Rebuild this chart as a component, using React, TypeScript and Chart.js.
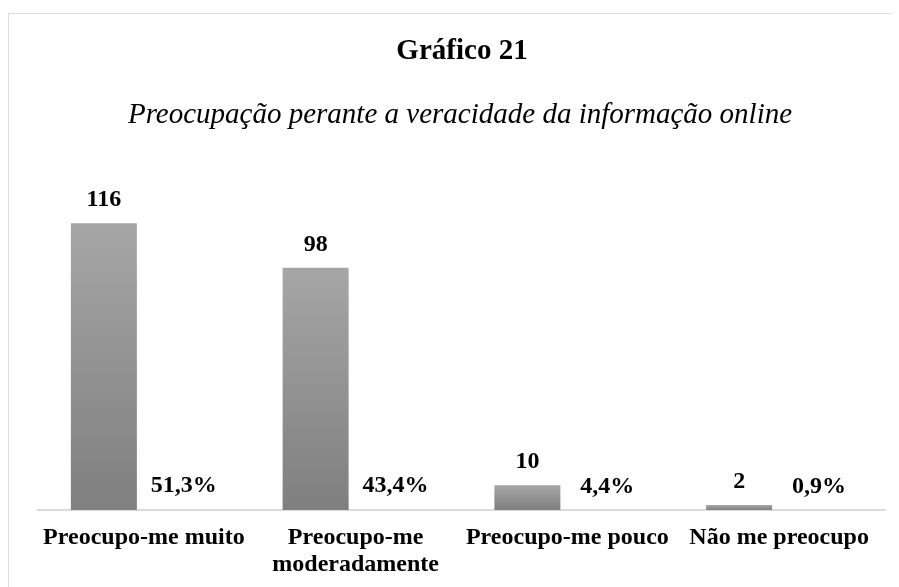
import React, { useEffect, useRef } from "react";
import { Chart, registerables } from "chart.js";

Chart.register(...registerables);

const titleText = "Gráfico 21";
const subtitleText = "Preocupação perante a veracidade da informação online";
const categories: (string | string[])[] = [
  "Preocupo-me muito",
  ["Preocupo-me", "moderadamente"],
  "Preocupo-me pouco",
  "Não me preocupo",
];
const countValues = [116, 98, 10, 2];
const pctValues = [0.513, 0.434, 0.044, 0.009];

const FONT = "'Liberation Serif', 'Times New Roman', serif";

const fmtPct = (v: number) => (v * 100).toFixed(1).replace(".", ",") + "%";

const labelPlugin = {
  id: "customLabels",
  afterDraw(chart: any) {
    const ctx = chart.ctx;
    ctx.save();
    ctx.fillStyle = "#000000";
    ctx.textAlign = "center";
    ctx.textBaseline = "alphabetic";
    ctx.font = `bold 29px ${FONT}`;
    ctx.fillText(titleText, 453, 45);
    ctx.font = `italic 29px ${FONT}`;
    ctx.fillText(subtitleText, 451, 109);
    ctx.font = `bold 24px ${FONT}`;
    chart.data.datasets.forEach((ds: any, di: number) => {
      const meta = chart.getDatasetMeta(di);
      meta.data.forEach((el: any, i: number) => {
        const v = ds.data[i];
        const txt = di === 0 ? String(v) : fmtPct(v);
        ctx.fillText(txt, el.x, el.y - 17);
      });
    });
    ctx.restore();
  },
};

export default function App() {
  const ref = useRef<HTMLCanvasElement | null>(null);
  useEffect(() => {
    document.body.style.overflow = "hidden";
    const canvas = ref.current!;
    const chart = new Chart(canvas, {
      type: "bar",
      data: {
        labels: categories,
        datasets: [
          {
            label: "N",
            data: countValues,
            backgroundColor: (c: any) => {
              const chart = c.chart;
              const ys = chart.scales && chart.scales.y;
              if (!ys || c.dataIndex === undefined) return "#8c8c8c";
              const top = ys.getPixelForValue(c.raw ?? 0);
              const base = ys.getPixelForValue(0);
              if (!isFinite(top) || !isFinite(base) || top === base) return "#8c8c8c";
              const g = chart.ctx.createLinearGradient(0, top, 0, base);
              g.addColorStop(0, "#a6a6a6");
              g.addColorStop(1, "#7f7f7f");
              return g;
            },
            borderWidth: 0,
            categoryPercentage: 0.7556,
            barPercentage: 0.825,
          },
          {
            label: "%",
            data: pctValues,
            backgroundColor: "rgba(0,0,0,0)",
            borderWidth: 0,
            categoryPercentage: 0.7556,
            barPercentage: 0.825,
          },
        ],
      },
      options: {
        animation: false,
        responsive: false,
        maintainAspectRatio: false,
        devicePixelRatio: 1,
        layout: { padding: { top: 150, left: 29, right: 14, bottom: 0 } },
        plugins: {
          legend: { display: false },
          title: { display: false },
          tooltip: { enabled: false },
        },
        scales: {
          x: {
            grid: { display: false, drawTicks: false },
            border: { display: true, color: "#d9dce0", width: 2 },
            ticks: {
              color: "#000000",
              padding: 15,
              maxRotation: 0,
              autoSkip: false,
              font: { family: FONT, size: 24, weight: "bold", lineHeight: 1.1 },
            },
            afterFit: (s: any) => {
              s.height = 77;
            },
          },
          y: {
            display: false,
            min: 0,
            max: 140,
          },
        },
      },
      plugins: [labelPlugin],
    } as any);
    return () => chart.destroy();
  }, []);

  return (
    <div style={{ paddingTop: 5 }}>
      <div
        style={{
          borderTop: "1px solid #d9dce0",
          borderLeft: "1px solid #d9dce0",
          width: 891,
          height: 574,
          boxSizing: "border-box",
        }}
      >
        <canvas ref={ref} width={890} height={573} style={{ display: "block", width: 890, height: 573 }} />
      </div>
    </div>
  );
}
